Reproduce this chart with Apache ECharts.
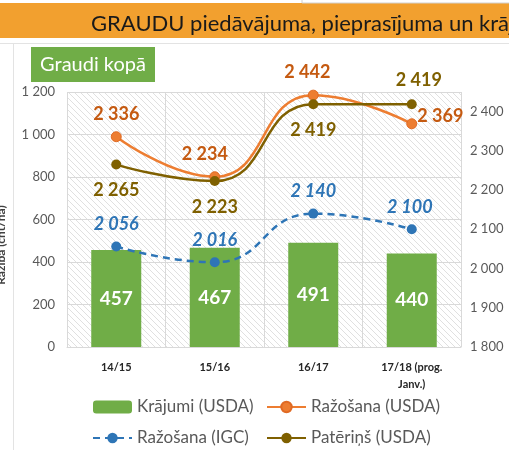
<!DOCTYPE html>
<html>
<head>
<meta charset="utf-8">
<script src="https://cdn.jsdelivr.net/npm/echarts@6/dist/echarts.min.js"></script>
<style>
  html, body { margin: 0; padding: 0; background: #fff; }
  #chart { width: 509px; height: 450px; }
</style>
</head>
<body>
<div id="chart"></div>
<script>
var categories = ['14/15', '15/16', '16/17', '17/18 (prog.\nJanv.)']
var stocksUSDA = [457, 467, 491, 440]
var prodUSDA = [2336, 2234, 2442, 2369]
var prodIGC = [2056, 2016, 2140, 2100]
var consUSDA = [2265, 2223, 2419, 2419]

var fontFamily = 'Lato, "Open Sans", sans-serif'

function fmt (v) {
  return String(v).replace(/\B(?=(\d{3})+(?!\d))/g, ' ')
}

// hatch pattern for the plot area
function hatch () {
  var c = document.createElement('canvas')
  c.width = 6
  c.height = 6
  var ctx = c.getContext('2d')
  ctx.fillStyle = '#fff'
  ctx.fillRect(0, 0, 6, 6)
  ctx.strokeStyle = '#e0e0e0'
  ctx.lineWidth = 1
  ctx.beginPath()
  ctx.moveTo(-1, -1); ctx.lineTo(7, 7)
  ctx.moveTo(-1, 5); ctx.lineTo(1, 7)
  ctx.moveTo(5, -1); ctx.lineTo(7, 1)
  ctx.stroke()
  return { image: c, repeat: 'repeat' }
}

function withLabels (values, labels) {
  return values.map(function (v, i) {
    return { value: v, label: labels[i] }
  })
}

var prodUSDALabels = [
  { position: 'top', distance: 8 },
  { position: 'top', distance: 8, offset: [-10, 0] },
  { position: 'top', distance: 8, offset: [-6, 0] },
  { position: 'right', distance: 0, offset: [0, -8] }
]
var consLabels = [
  { position: 'bottom', distance: 12 },
  { position: 'bottom', distance: 12 },
  { position: 'bottom', distance: 12 },
  { position: 'top', distance: 8, offset: [7, -2] }
]
var igcLabels = [
  { position: 'top', distance: 8 },
  { position: 'top', distance: 8 },
  { position: 'top', distance: 8 },
  { position: 'top', distance: 8, offset: [-2, 0] }
]

var legendText = { fontSize: 17, lineHeight: 22, color: '#595959', fontFamily: fontFamily }

var chart = echarts.init(document.getElementById('chart'))
chart.setOption({
  animation: false,
  textStyle: { fontFamily: fontFamily },
  title: {
    text: 'GRAUDU piedāvājuma, pieprasījuma un krājumu bilance',
    left: 86,
    top: 8,
    textStyle: { fontSize: 22, fontWeight: 'normal', color: '#1a1a1a', fontFamily: fontFamily }
  },
  graphic: [
    { type: 'rect', z: -10, shape: { x: 0, y: 3, width: 509, height: 35 }, style: { fill: '#F2A02F' } },
    { type: 'rect', z: -9, shape: { x: 302, y: -2, width: 220, height: 5 }, style: { fill: '#fff', stroke: '#d0d0d0', lineWidth: 1 } },
    { type: 'line', z: -9, shape: { x1: 0, y1: 43.5, x2: 509, y2: 43.5 }, style: { stroke: '#e3e3e3', lineWidth: 1 } },
    { type: 'line', z: -9, shape: { x1: 13.5, y1: 43.5, x2: 13.5, y2: 450 }, style: { stroke: '#e3e3e3', lineWidth: 1 } },
    {
      type: 'rect', shape: { x: 31, y: 47, width: 124, height: 35 }, style: { fill: '#70AD47' },
      textContent: { style: { text: 'Graudi kopā', fill: '#fff', fontSize: 20, fontFamily: fontFamily } },
      textConfig: { position: 'inside' }
    },
    {
      type: 'text', x: 1, y: 245, rotation: Math.PI / 2,
      style: { text: 'Ražība (cnt/ha)', fill: '#404040', fontSize: 12, fontWeight: 'bold', fontFamily: fontFamily, align: 'center', verticalAlign: 'middle' }
    }
  ],
  grid: {
    left: 67, right: 48, top: 92, bottom: 103,
    show: true, backgroundColor: hatch(), borderWidth: 0
  },
  legend: [
    {
      orient: 'vertical', left: 92, top: 396, height: 80, itemGap: 9, padding: 0,
      itemWidth: 39, itemHeight: 13,
      textStyle: legendText,
      data: ['Krājumi (USDA)', 'Ražošana (IGC)']
    },
    {
      orient: 'vertical', left: 266, top: 396, height: 80, itemGap: 9, padding: 0,
      itemWidth: 39, itemHeight: 13,
      textStyle: legendText,
      data: ['Ražošana (USDA)', 'Patēriņš (USDA)']
    }
  ],
  xAxis: {
    type: 'category',
    data: categories,
    axisTick: { show: false },
    axisLine: { lineStyle: { color: '#d9d9d9' } },
    splitLine: { show: true, lineStyle: { color: '#d9d9d9' } },
    axisLabel: { fontSize: 11, fontWeight: 'bold', color: '#262626', margin: 12, lineHeight: 17 }
  },
  yAxis: [
    {
      type: 'value', min: 0, max: 1200, interval: 200,
      axisLabel: { fontSize: 13, color: '#595959', margin: 12, formatter: fmt },
      splitLine: { lineStyle: { color: '#d9d9d9' } }
    },
    {
      type: 'value', min: 1800, max: 2450, interval: 100,
      axisLabel: { fontSize: 13, color: '#595959', margin: 9, showMaxLabel: false, formatter: fmt },
      splitLine: { show: false }
    }
  ],
  series: [
    {
      name: 'Krājumi (USDA)',
      type: 'bar',
      yAxisIndex: 0,
      barWidth: 50,
      itemStyle: { color: '#70AD47' },
      label: { show: true, position: 'inside', color: '#fff', fontSize: 19, fontWeight: 'bold', fontFamily: fontFamily },
      data: stocksUSDA
    },
    {
      name: 'Ražošana (USDA)',
      type: 'line',
      yAxisIndex: 1,
      smooth: true,
      symbol: 'circle',
      symbolSize: 10,
      lineStyle: { color: '#ED7D31', width: 2.5 },
      itemStyle: { color: '#ED7D31', borderColor: '#E06A24', borderWidth: 1 },
      label: { show: true, color: '#C55A11', fontSize: 18, fontWeight: 'bold', fontFamily: fontFamily, formatter: function (p) { return fmt(p.value) } },
      data: withLabels(prodUSDA, prodUSDALabels)
    },
    {
      name: 'Ražošana (IGC)',
      type: 'line',
      yAxisIndex: 1,
      smooth: true,
      symbol: 'circle',
      symbolSize: 10,
      lineStyle: { color: '#2E75B6', width: 2.5, type: [7, 5] },
      itemStyle: { color: '#2E75B6' },
      label: { show: true, color: '#2E75B6', fontSize: 18, fontWeight: 'bold', fontStyle: 'italic', fontFamily: fontFamily, formatter: function (p) { return fmt(p.value) } },
      data: withLabels(prodIGC, igcLabels)
    },
    {
      name: 'Patēriņš (USDA)',
      type: 'line',
      yAxisIndex: 1,
      smooth: true,
      symbol: 'circle',
      symbolSize: 10,
      lineStyle: { color: '#7F6000', width: 2.5 },
      itemStyle: { color: '#7F6000' },
      label: { show: true, color: '#7F6000', fontSize: 18, fontWeight: 'bold', fontFamily: fontFamily, formatter: function (p) { return fmt(p.value) } },
      data: withLabels(consUSDA, consLabels)
    }
  ]
})
</script>
</body>
</html>
